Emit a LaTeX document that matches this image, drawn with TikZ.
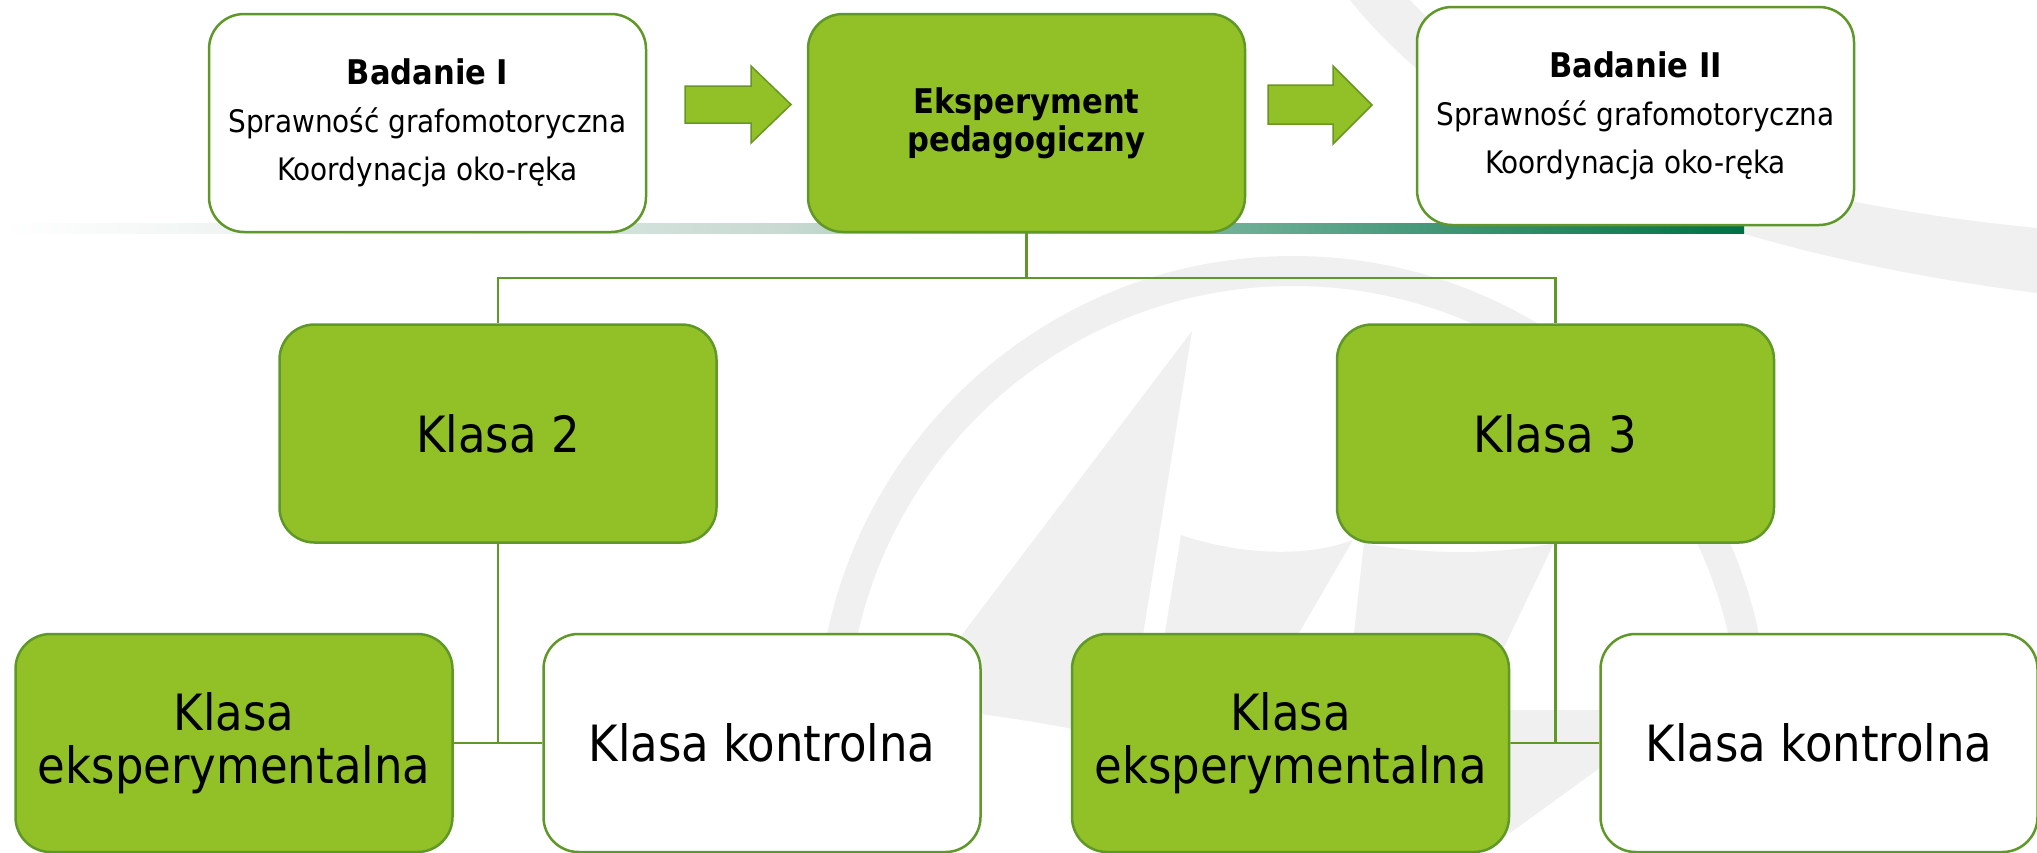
\documentclass[tikz,border=0pt]{standalone}
\usepackage{fontspec}
\setmainfont{DejaVu Sans Condensed}
\definecolor{kgreen}{RGB}{145,193,39}
\definecolor{kborder}{RGB}{95,152,40}
\definecolor{karrow}{RGB}{105,150,35}
\definecolor{wmgray}{RGB}{240,240,240}
\definecolor{barA}{RGB}{200,218,210}
\definecolor{barB}{RGB}{110,175,150}
\definecolor{barC}{RGB}{0,112,72}
\pgfdeclarehorizontalshading{barshade}{100bp}{color(0bp)=(white); color(25bp)=(white); color(47.5bp)=(barA); color(60.5bp)=(barB); color(75bp)=(barC); color(100bp)=(barC)}
\begin{document}
\begin{tikzpicture}[x=1pt,y=-1pt,
  box/.style={draw=kborder, line width=2.5pt, rounded corners=35pt, minimum width=437pt, minimum height=218pt, inner sep=0pt, align=center, text=black},
  gbox/.style={box, fill=kgreen},
  wbox/.style={box, fill=white},
  conn/.style={draw=kborder, line width=2.5pt},
  bigarrow/.style={fill=kgreen, draw=karrow, line width=1.5pt, line join=miter},
  wm/.style={fill=wmgray, draw=none},
  txtsmall/.style={font=\fontsize{31}{48}\selectfont},
  txtbig/.style={font=\fontsize{50}{53}\selectfont}]
\useasboundingbox (0,0) rectangle (2037,852);
\clip (0,0) rectangle (2037,852);
\fill[white] (0,0) rectangle (2037,852);
% watermark
\draw[draw=wmgray, line width=30pt] (1293,732) circle (461);
\fill[wm] (1350,0) .. controls (1470,150) and (1700,250) .. (2037,293) -- (2037,228) .. controls (1750,200) and (1520,120) .. (1410,0) -- cycle;
\fill[wm] (1192,331) -- (908,706) .. controls (980,712) and (1060,725) .. (1126,740) -- cycle;
\fill[wm] (1181,535) .. controls (1230,552) and (1300,560) .. (1353,540) -- (1225,760) -- (1144,760) -- cycle;
\fill[wm] (1364,543) .. controls (1420,555) and (1500,555) .. (1554,543) -- (1450,760) -- (1340,760) -- cycle;
\fill[wm] (1420,710) -- (1640,710) -- (1640,735) -- (1601,767) -- (1510,833) -- (1420,833) -- cycle;
% gradient bar
\shade[shading=barshade] (0,223) rectangle (1744,233);
% boxes
\node[wbox, txtsmall] (b1) at (427.5,123) {{\fontsize{34}{48}\selectfont\bfseries Badanie I}\\Sprawność grafomotoryczna\\Koordynacja oko-ręka};
\node[gbox, font=\fontsize{34}{38}\selectfont\bfseries] (ek) at (1026.5,123) {Eksperyment\\pedagogiczny};
\node[wbox, txtsmall] (b2) at (1635.5,116) {{\fontsize{34}{48}\selectfont\bfseries Badanie II}\\Sprawność grafomotoryczna\\Koordynacja oko-ręka};
\node[gbox, txtbig] (k2) at (498,433.5) {Klasa 2};
\node[gbox, txtbig] (k3) at (1555.5,433.5) {Klasa 3};
\node[gbox, txtbig] (e1) at (234,743) {Klasa\\eksperymentalna};
\node[wbox, txtbig] (c1) at (762,743) {Klasa kontrolna};
\node[gbox, txtbig] (e2) at (1290.5,743) {Klasa\\eksperymentalna};
\node[wbox, txtbig] (c2) at (1819,743) {Klasa kontrolna};
% connectors
\coordinate (j) at (1026.5,278);
\draw[conn] (ek.south) -- (j) -| (k2.north);
\draw[conn] (j) -| (k3.north);
\draw[conn] (k2.south) |- (e1.east) -- (c1.west);
\draw[conn] (k3.south) |- (e2.east) -- (c2.west);
% block arrows
\draw[bigarrow] (685,86) -- (751,86) -- (751,66) -- (791,104.5) -- (751,143) -- (751,123) -- (685,123) -- cycle;
\draw[bigarrow] (1268,85) -- (1333,85) -- (1333,66) -- (1372,105) -- (1333,144) -- (1333,124) -- (1268,124) -- cycle;
\end{tikzpicture}
\end{document}
